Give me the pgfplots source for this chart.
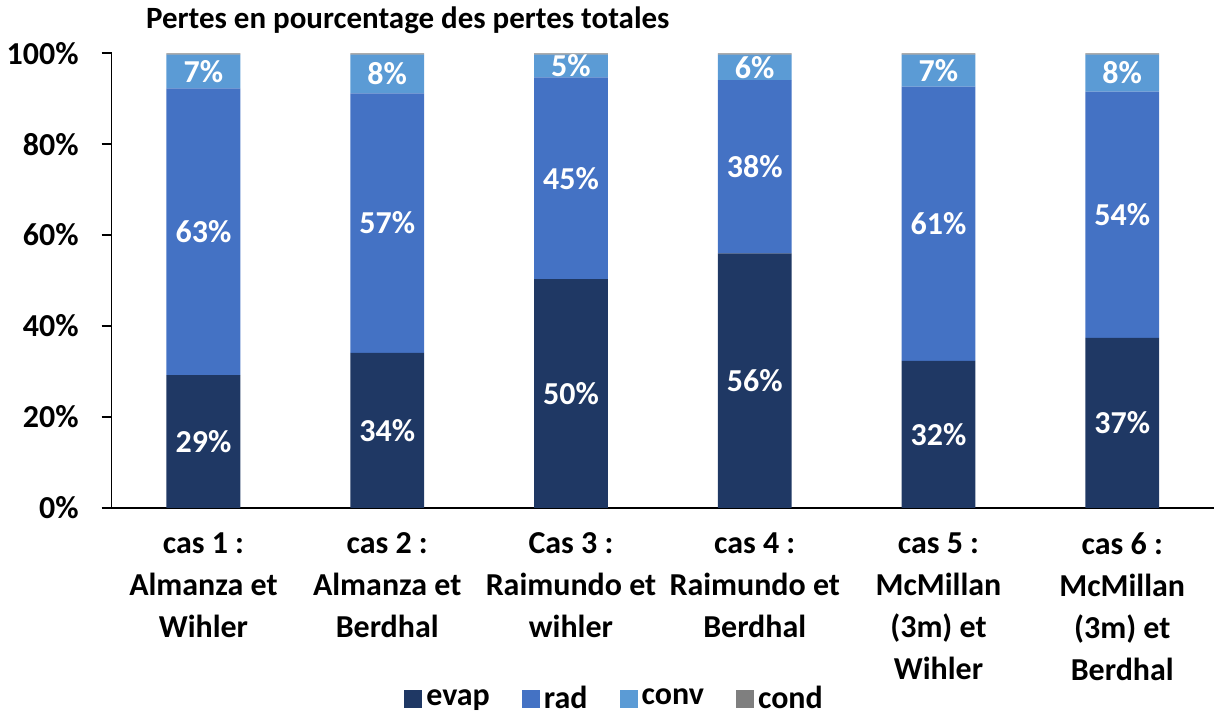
\documentclass[border=0pt]{standalone}
\usepackage{fontspec}
\setmainfont{Carlito}
\usepackage{pgfplots}
\usepackage{pgfplotstable}
\pgfplotsset{compat=1.18}
\definecolor{evapc}{HTML}{1F3864}
\definecolor{radc}{HTML}{4472C4}
\definecolor{convc}{HTML}{5B9BD5}
\definecolor{condc}{HTML}{7F7F7F}
\pgfplotstableread{
x evap rad conv cond
0 29.2 63.1 7.4 0.3
1 34.1 57.1 8.5 0.3
2 50.3 44.4 5.0 0.3
3 56.0 38.1 5.6 0.3
4 32.3 60.4 7.0 0.3
5 37.4 54.2 8.1 0.3
}\datatable
\pgfplotstableread{
x y label
0 14.6 29\%
1 17.05 34\%
2 25.15 50\%
3 28.0 56\%
4 16.15 32\%
5 18.7 37\%
0 60.75 63\%
1 62.65 57\%
2 72.5 45\%
3 75.05 38\%
4 62.5 61\%
5 64.5 54\%
0 96.0 7\%
1 95.5 8\%
2 97.2 5\%
3 96.9 6\%
4 96.2 7\%
5 95.75 8\%
}\labeltable
\begin{document}
\begin{tikzpicture}[font=\fontsize{16}{19}\selectfont\bfseries]
\pgfplotsset{
  common/.style={
    width=552pt, height=227.5pt, scale only axis,
    xmin=-0.5, xmax=5.5, ymin=0, ymax=100,
  }
}
\begin{axis}[common, clip=false,
  ybar stacked, bar width=37pt,
  axis x line*=bottom, axis y line*=left,
  axis line style={black, line width=0.9pt},
  xtick=data,
  xticklabels={{cas 1 :\\[2pt]Almanza et\\[2pt]Wihler},{cas 2 :\\[2pt]Almanza et\\[2pt]Berdhal},{Cas 3 :\\[2pt]Raimundo et\\[2pt]wihler},{cas 4 :\\[2pt]Raimundo et\\[2pt]Berdhal},{cas 5 :\\[2pt]McMillan\\[2pt](3m) et\\[2pt]Wihler},{cas 6 :\\[2pt]McMillan\\[2pt](3m) et\\[2pt]Berdhal}},
  xticklabel style={align=center, font=\fontsize{16}{19}\selectfont\bfseries, yshift=-4pt},
  x tick style={draw=none},
  ytick={0,20,40,60,80,100},
  yticklabel={\pgfmathprintnumber{\tick}\%},
  /pgf/number format/assume math mode=true,
  y tick style={black, line width=0.9pt},
  tick align=outside, major tick length=5pt,
  yticklabel style={xshift=-8pt},
  legend style={at={(0.457,-0.42)}, anchor=center, draw=none, legend columns=4,
    font=\fontsize{16}{19}\selectfont\bfseries,
    /tikz/every even column/.append style={column sep=14pt}},
  legend image code/.code={\fill[#1] (0cm,-0.16cm) rectangle (0.32cm,0.16cm);},
]
\addplot[fill=evapc, draw=none] table[x=x, y=evap] {\datatable};
\addplot[fill=radc, draw=none] table[x=x, y=rad] {\datatable};
\addplot[fill=convc, draw=none] table[x=x, y=conv] {\datatable};
\addplot[fill=condc, draw=none] table[x=x, y=cond] {\datatable};
\legend{evap, rad, conv, cond}
\node[anchor=base west, font=\fontsize{15.5}{18}\selectfont\bfseries] at (rel axis cs:0.025,1) [yshift=12.5pt] {Pertes en pourcentage des pertes totales};
\path (rel axis cs:0,0.5) ++(-60pt,0) coordinate (L);
\end{axis}
\begin{axis}[common, axis lines=none]
\addplot[draw=none, mark=none, nodes near coords, point meta=explicit symbolic,
  nodes near coords align=center,
  every node near coord/.append style={white, font=\fontsize{16}{19}\selectfont\bfseries}]
  table[x=x, y=y, meta=label] {\labeltable};
\end{axis}
\end{tikzpicture}
\end{document}
